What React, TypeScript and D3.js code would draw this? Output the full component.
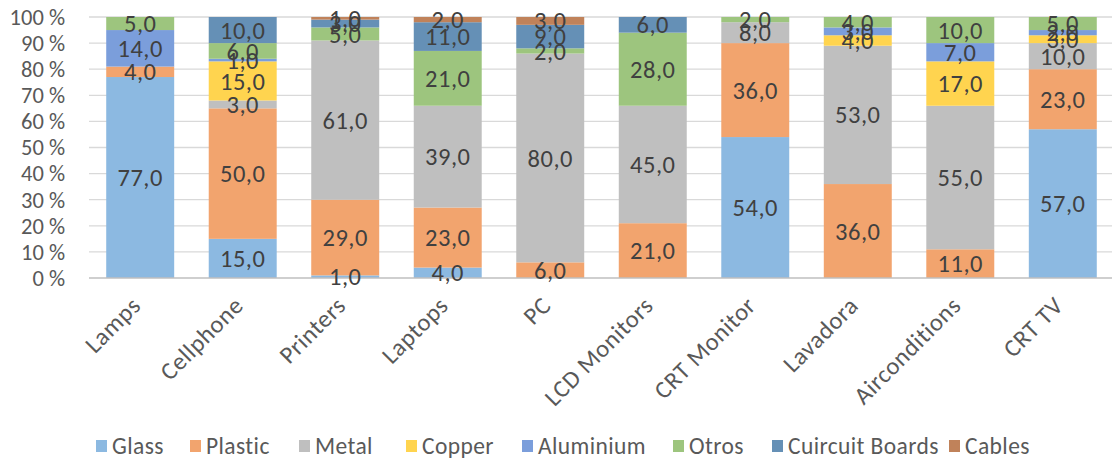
import React from "react";
import * as d3 from "d3";

const categories = ["Lamps", "Cellphone", "Printers", "Laptops", "PC", "LCD Monitors", "CRT Monitor", "Lavadora", "Airconditions", "CRT TV"];
const seriesNames = ["Glass", "Plastic", "Metal", "Copper", "Aluminium", "Otros", "Cuircuit Boards", "Cables"];
const seriesColors = ["#8cb9e1", "#f2a46e", "#bfbfbf", "#ffd44f", "#7b9edb", "#9dc57e", "#6590b6", "#c0825a"];
const glass = [77, 15, 1, 4, 0, 0, 54, 0, 0, 57];
const plastic = [4, 50, 29, 23, 6, 21, 36, 36, 11, 23];
const metal = [0, 3, 61, 39, 80, 45, 8, 53, 55, 10];
const copper = [0, 15, 0, 0, 0, 0, 0, 4, 17, 3];
const aluminium = [14, 1, 0, 0, 0, 0, 0, 3, 7, 2];
const otros = [5, 6, 5, 21, 2, 28, 2, 4, 10, 5];
const circuit = [0, 10, 3, 11, 9, 6, 0, 0, 0, 0];
const cables = [0, 0, 1, 2, 3, 0, 0, 0, 0, 0];
const yTicks = [0, 10, 20, 30, 40, 50, 60, 70, 80, 90, 100];
const legendX = [96, 190, 299, 406, 522, 673, 772, 949];

const FONT = "Carlito, Calibri, 'Open Sans', 'Liberation Sans', sans-serif";

export default function App() {
  const W = 1112, H = 459;
  const values = [glass, plastic, metal, copper, aluminium, otros, circuit, cables];
  const rows = categories.map((c, i) => {
    const r: any = { cat: c };
    seriesNames.forEach((s, j) => (r[s] = values[j][i]));
    return r;
  });
  const stack = d3.stack<any>().keys(seriesNames).offset(d3.stackOffsetExpand);
  const layers = stack(rows);
  const x = d3.scaleBand().domain(categories).range([89, 1114]).paddingInner(0.337).paddingOuter(0.168);
  const y = d3.scaleLinear().domain([0, 1]).range([278, 17]);

  return (
    <svg width={W} height={H} style={{ position: "absolute", left: 0, top: 0, fontFamily: FONT }}>
      <rect width={W} height={H} fill="#fff" />
      {yTicks.map((t) => (
        <g key={t}>
          {t > 0 && <line x1={89} x2={1112} y1={y(t / 100)} y2={y(t / 100)} stroke="#d9d9d9" strokeWidth={1.3} />}
          <text x={65} y={y(t / 100)} dy="0.35em" textAnchor="end" fontSize={22.5} fill="#595959">{`${t} %`}</text>
        </g>
      ))}
      {layers.map((layer, li) => (
        <g key={layer.key}>
          {layer.map((d, i) => {
            const v = values[li][i];
            if (!v) return null;
            return (
              <rect key={i} x={x(categories[i])} width={x.bandwidth()} y={y(d[1])} height={y(d[0]) - y(d[1])} fill={seriesColors[li]} />
            );
          })}
        </g>
      ))}
      <line x1={89} x2={1112} y1={278} y2={278} stroke="#bfbfbf" strokeWidth={1.5} />
      {layers.map((layer, li) => (
        <g key={"l" + layer.key}>
          {layer.map((d, i) => {
            const v = values[li][i];
            if (!v) return null;
            return (
              <text key={i} x={(x(categories[i]) as number) + x.bandwidth() / 2} y={y((d[0] + d[1]) / 2)} dy="0.35em" textAnchor="middle" fontSize={24.5} letterSpacing={0.5} fill="#404040">
                {d3.format(".1f")(v).replace(".", ",")}
              </text>
            );
          })}
        </g>
      ))}
      {categories.map((c) => {
        const cx = (x(c) as number) + x.bandwidth() / 2 - 4;
        const cy = 301;
        return (
          <text key={c} x={cx} y={cy} textAnchor="end" fontSize={24.5} letterSpacing={0.6} fill="#595959" transform={`rotate(-45, ${cx}, ${cy})`} dy="0.35em">
            {c}
          </text>
        );
      })}
      {seriesNames.map((s, i) => (
        <g key={s}>
          <rect x={legendX[i]} y={440} width={11} height={12} fill={seriesColors[i]} />
          <text x={legendX[i] + 16} y={446} dy="0.35em" fontSize={23.5} letterSpacing={0.4} fill="#595959">{s}</text>
        </g>
      ))}
    </svg>
  );
}
